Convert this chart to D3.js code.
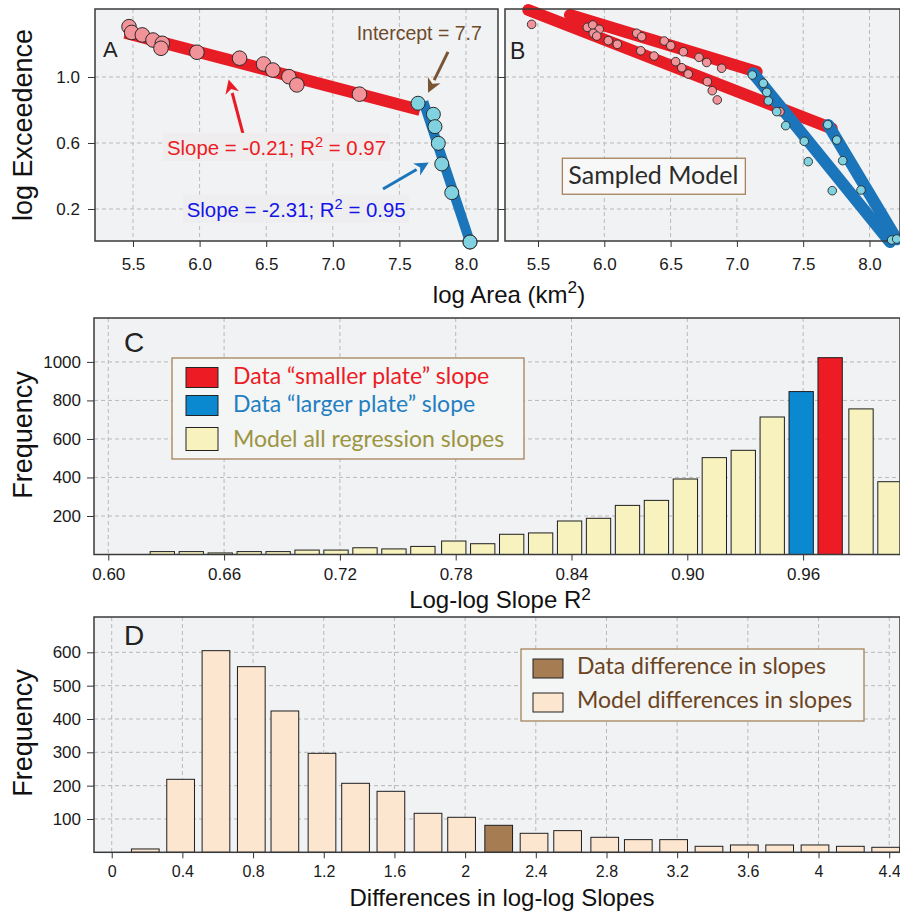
<!DOCTYPE html>
<html>
<head>
<meta charset="utf-8">
<script src="https://cdn.jsdelivr.net/npm/d3@7"></script>
<style>
body { margin: 0; background: #fff; }
svg { display: block; }
</style>
</head>
<body>
<script>
// ---- panel A: observed plates, log area vs log exceedence
var aSmallX = [5.47, 5.49, 5.57, 5.65, 5.72, 5.71, 5.98, 6.30, 6.48, 6.55, 6.67, 6.73, 7.20];
var aSmallY = [1.305, 1.27, 1.255, 1.224, 1.204, 1.174, 1.150, 1.114, 1.079, 1.042, 1.002, 0.952, 0.896];
var aLargeX = [7.64, 7.755, 7.767, 7.792, 7.818, 7.893, 8.03];
var aLargeY = [0.841, 0.774, 0.699, 0.598, 0.473, 0.299, 0.0];
var aFitSmall = [[5.44, 1.268], [7.655, 0.80]];
var aFitLarge = [[7.68, 0.85], [8.03, 0.0]];

// ---- panel B: sampled model
var bSmallX = [5.452, 5.872, 5.913, 5.962, 5.917, 5.943, 6.030, 6.098, 6.244, 6.282, 6.275, 6.375, 6.452,
               6.501, 6.596, 6.538, 6.584, 6.633, 6.714, 6.772, 6.885, 6.777, 6.814, 6.852, 7.325];
var bSmallY = [1.319, 1.301, 1.315, 1.289, 1.265, 1.248, 1.220, 1.198, 1.265, 1.244, 1.159, 1.127, 1.218,
               1.190, 1.153, 1.093, 1.056, 1.018, 1.119, 1.088, 1.053, 0.972, 0.917, 0.861, 0.790];
var bLargeX = [7.116, 7.199, 7.225, 7.237, 7.300, 7.368, 7.508, 7.538, 7.685, 7.753, 7.798, 7.719, 7.936, 8.167, 8.205];
var bLargeY = [1.012, 0.962, 0.907, 0.855, 0.790, 0.705, 0.610, 0.487, 0.711, 0.618, 0.493, 0.311, 0.315, 0.012, 0.018];
var bFitsSmall = [[[5.741, 1.376], [7.149, 1.032]], [[5.427, 1.406], [7.715, 0.689]]];
var bFitsLarge = [[[7.124, 1.022], [8.155, 0.0]], [[7.689, 0.709], [8.205, 0.016]]];

// ---- panel C: histogram of R2
var r2Bins = [0.628, 0.643, 0.658, 0.673, 0.688, 0.703, 0.718, 0.733, 0.748, 0.763, 0.779, 0.794, 0.809,
              0.824, 0.839, 0.854, 0.869, 0.884, 0.899, 0.914, 0.929, 0.944, 0.959, 0.974, 0.990, 1.005];
var r2Counts = [15, 15, 8, 15, 15, 23, 23, 35, 29, 42, 70, 56, 105,
                112, 174, 188, 255, 281, 392, 503, 541, 714, 846, 1022, 756, 378];
var r2Kind = ['m','m','m','m','m','m','m','m','m','m','m','m','m',
              'm','m','m','m','m','m','m','m','m','large','small','m','m'];
var r2XTicks = [0.60, 0.66, 0.72, 0.78, 0.84, 0.90, 0.96];
var r2YTicks = [200, 400, 600, 800, 1000];

// ---- panel D: histogram of slope differences
var diffBins = [0.19, 0.39, 0.59, 0.79, 0.98, 1.19, 1.38, 1.58, 1.79, 1.98, 2.19,
                2.39, 2.58, 2.79, 2.98, 3.18, 3.38, 3.58, 3.78, 3.98, 4.18, 4.38];
var diffCounts = [10, 219, 605, 557, 424, 297, 207, 183, 117, 105, 81,
                  57, 65, 45, 38, 38, 18, 22, 22, 22, 18, 15];
var diffKind = ['m','m','m','m','m','m','m','m','m','m','data',
                'm','m','m','m','m','m','m','m','m','m','m'];
var diffXTicks = [0, 0.4, 0.8, 1.2, 1.6, 2, 2.4, 2.8, 3.2, 3.6, 4, 4.4];
var diffYTicks = [100, 200, 300, 400, 500, 600];

var areaTicks = [5.5, 6.0, 6.5, 7.0, 7.5, 8.0];
var exceedTicks = [0.2, 0.6, 1.0];

var SANS = '"Liberation Sans", Arial, Helvetica, sans-serif';
var MYR = 'Lato, "Open Sans", sans-serif';

var svg = d3.select('body').append('svg')
    .attr('width', 900).attr('height', 913)
    .style('font-family', SANS);

// scales
var xA = d3.scaleLinear().domain([5.2147, 8.2402]).range([95, 498]);
var xB = d3.scaleLinear().domain([5.2511, 8.230]).range([505, 900]);
var yAB = d3.scaleLinear().domain([0.006, 1.412]).range([241, 9]);
var xC = d3.scaleLinear().domain([0.5926, 1.0102]).range([94, 900]);
var yC = d3.scaleLinear().domain([0, 1228]).range([554.5, 318]);
var xD = d3.scaleLinear().domain([-0.1002, 4.461]).range([94, 900]);
var yD = d3.scaleLinear().domain([0, 706]).range([852.3, 617]);

function background(x, y, xt, yt) {
    var g = svg.append('g');
    var xr = x.range(), yr = y.range();
    g.append('rect')
        .attr('x', xr[0]).attr('y', yr[1])
        .attr('width', xr[1] - xr[0]).attr('height', yr[0] - yr[1])
        .attr('fill', '#f1f2f4');
    g.selectAll('.vg').data(xt).enter().append('line')
        .attr('x1', d => x(d)).attr('x2', d => x(d))
        .attr('y1', yr[1]).attr('y2', yr[0])
        .attr('stroke', '#b9b9b9').attr('stroke-dasharray', '4,3');
    g.selectAll('.hg').data(yt).enter().append('line')
        .attr('y1', d => y(d)).attr('y2', d => y(d))
        .attr('x1', xr[0]).attr('x2', xr[1])
        .attr('stroke', '#b9b9b9').attr('stroke-dasharray', '4,3');
    return g;
}

function border(x, y) {
    var xr = x.range(), yr = y.range();
    svg.append('rect')
        .attr('x', xr[0]).attr('y', yr[1])
        .attr('width', xr[1] - xr[0]).attr('height', yr[0] - yr[1])
        .attr('fill', 'none').attr('stroke', '#3a3a3a').attr('stroke-width', 1.5);
}

function axes(x, y, xt, yt, xfmt, yfmt, xpad, ypad, xfont, yfont) {
    var yr = y.range(), xr = x.range();
    var gx = svg.append('g').attr('transform', 'translate(0,' + yr[0] + ')')
        .call(d3.axisBottom(x).tickValues(xt).tickSize(6).tickPadding(xpad).tickFormat(xfmt));
    gx.select('.domain').remove();
    gx.selectAll('text').attr('font-size', xfont).attr('font-family', SANS).attr('fill', '#1a1a1a');
    gx.selectAll('line').attr('stroke', '#333');
    var gy = svg.append('g').attr('transform', 'translate(' + xr[0] + ',0)')
        .call(d3.axisLeft(y).tickValues(yt).tickSize(7).tickPadding(ypad).tickFormat(yfmt));
    gy.select('.domain').remove();
    gy.selectAll('text').attr('font-size', yfont).attr('font-family', SANS).attr('fill', '#1a1a1a');
    gy.selectAll('line').attr('stroke', '#333');
}

function pts(xs, ys) { return xs.map((d, i) => [d, ys[i]]); }

function panelLetter(txt, px, py, size) {
    svg.append('text').attr('x', px).attr('y', py).attr('font-size', size)
        .attr('fill', '#222').text(txt);
}

function arrow(x, y, from, to, color, w) {
    var x1 = x(from[0]), y1 = y(from[1]), x2 = x(to[0]), y2 = y(to[1]);
    var ang = Math.atan2(y2 - y1, x2 - x1), L = 14, Wd = 7;
    var bx = x2 - L * Math.cos(ang), by = y2 - L * Math.sin(ang);
    svg.append('line').attr('x1', x1).attr('y1', y1).attr('x2', bx).attr('y2', by)
        .attr('stroke', color).attr('stroke-width', w);
    svg.append('path')
        .attr('d', 'M' + x2 + ',' + y2 +
            'L' + (bx + Wd * Math.sin(ang)) + ',' + (by - Wd * Math.cos(ang)) +
            'L' + (x2 - 0.7 * L * Math.cos(ang)) + ',' + (y2 - 0.7 * L * Math.sin(ang)) +
            'L' + (bx - Wd * Math.sin(ang)) + ',' + (by + Wd * Math.cos(ang)) + 'Z')
        .attr('fill', color);
}

function supLabel(g, px, py, pre, sup, post, size, color, anchor, raise) {
    var r = raise || 0.4;
    var t = g.append('text').attr('x', px).attr('y', py).attr('font-size', size)
        .attr('fill', color).attr('text-anchor', anchor || 'start');
    t.append('tspan').text(pre);
    t.append('tspan').attr('dy', -size * r).attr('font-size', size * 0.72).text(sup);
    t.append('tspan').attr('dy', size * r).text(post);
    return t;
}

var line = d3.line();

// ================= Panel A =================
background(xA, yAB, areaTicks, exceedTicks);
axes(xA, yAB, areaTicks, exceedTicks, d3.format('.1f'), d3.format('.1f'), 11, 8, 17, 17);

svg.append('path').attr('d', line(aFitSmall.map(d => [xA(d[0]), yAB(d[1])])))
    .attr('stroke', '#e81c24').attr('stroke-width', 12).attr('fill', 'none');
svg.append('path').attr('d', line(aFitLarge.map(d => [xA(d[0]), yAB(d[1])])))
    .attr('stroke', '#1a75bb').attr('stroke-width', 10).attr('fill', 'none');

svg.append('g').selectAll('circle').data(pts(aSmallX, aSmallY)).enter().append('circle')
    .attr('cx', d => xA(d[0])).attr('cy', d => yAB(d[1])).attr('r', 7.3)
    .attr('fill', '#f2939a').attr('stroke', '#2a2a2a').attr('stroke-width', 1);
svg.append('g').selectAll('circle').data(pts(aLargeX, aLargeY)).enter().append('circle')
    .attr('cx', d => xA(d[0])).attr('cy', d => yAB(d[1])).attr('r', 7)
    .attr('fill', '#80d2e0').attr('stroke', '#2a2a2a').attr('stroke-width', 1);

// annotations A
arrow(xA, yAB, [7.865, 1.152], [7.715, 0.905], '#7a5535', 3);
arrow(xA, yAB, [6.326, 0.655], [6.218, 0.985], '#e81c24', 3);
arrow(xA, yAB, [7.377, 0.321], [7.72, 0.482], '#1a75bb', 3);

var annA = svg.append('g');
var redBox = annA.append('rect').attr('fill', '#efeded');
var redT = supLabel(annA, xA(5.755), yAB(0.527), 'Slope = -0.21; R', '2', ' = 0.97', 20.4, '#ec1c24');
var blueBox = annA.append('rect').attr('fill', '#eeeef1');
var blueT = supLabel(annA, xA(5.903), yAB(0.153), 'Slope = -2.31; R', '2', ' = 0.95', 20.4, '#1414e6');
[[redBox, redT], [blueBox, blueT]].forEach(function (p) {
    var bb = p[1].node().getBBox();
    p[0].attr('x', bb.x - 4).attr('y', bb.y - 1).attr('width', bb.width + 8).attr('height', bb.height + 3);
});
annA.append('text').attr('x', xA(7.179)).attr('y', yAB(1.224)).attr('font-size', 19.5)
    .attr('fill', '#6e4b2a').text('Intercept = 7.7');

border(xA, yAB);
// point sitting on the bottom border
svg.append('circle').attr('cx', xA(aLargeX[6])).attr('cy', yAB(aLargeY[6])).attr('r', 7)
    .attr('fill', '#80d2e0').attr('stroke', '#2a2a2a').attr('stroke-width', 1);
panelLetter('A', 103, 57, 22);

// ================= Panel B =================
background(xB, yAB, areaTicks, exceedTicks);
axes(xB, yAB, areaTicks, exceedTicks, d3.format('.1f'), '', 11, 8, 17, 17);

bFitsSmall.forEach(function (f) {
    svg.append('path').attr('d', line(f.map(d => [xB(d[0]), yAB(d[1])])))
        .attr('stroke', '#e81c24').attr('stroke-width', 12).attr('stroke-linecap', 'round').attr('fill', 'none');
});
bFitsLarge.forEach(function (f) {
    svg.append('path').attr('d', line(f.map(d => [xB(d[0]), yAB(d[1])])))
        .attr('stroke', '#1a75bb').attr('stroke-width', 12).attr('stroke-linecap', 'round').attr('fill', 'none');
});
svg.append('g').selectAll('circle').data(pts(bSmallX, bSmallY)).enter().append('circle')
    .attr('cx', d => xB(d[0])).attr('cy', d => yAB(d[1])).attr('r', 4.3)
    .attr('fill', '#f2939a').attr('stroke', '#2a2a2a').attr('stroke-width', 0.9);

var smBox = svg.append('rect').attr('fill', '#f8f8f8').attr('stroke', '#a5825a').attr('stroke-width', 1.3);
var smT = svg.append('text').attr('x', xB(5.729)).attr('y', yAB(0.350)).attr('font-size', 25)
    .attr('font-family', MYR).attr('fill', '#2b2b2b').text('Sampled Model');
var smW = smT.node().getComputedTextLength();
smBox.attr('x', xB(5.729) - 6).attr('y', yAB(0.350) - 26).attr('width', smW + 13).attr('height', 36);

border(xB, yAB);
svg.append('g').selectAll('circle').data(pts(bLargeX, bLargeY)).enter().append('circle')
    .attr('cx', d => xB(d[0])).attr('cy', d => yAB(d[1])).attr('r', 4.3)
    .attr('fill', '#80d2e0').attr('stroke', '#2a2a2a').attr('stroke-width', 0.9);
panelLetter('B', 510, 59, 23);

// titles A/B
svg.append('text').attr('transform', 'translate(32,125) rotate(-90)').attr('text-anchor', 'middle')
    .attr('font-size', 27).attr('fill', '#111').text('log Exceedence');
supLabel(svg, 509, 303, 'log Area (km', '2', ')', 24, '#111', 'middle');

// ================= Panel C =================
background(xC, yC, r2XTicks, r2YTicks);
axes(xC, yC, r2XTicks, r2YTicks, d3.format('.2f'), d3.format('d'), 7, 6, 17, 17);

var cFill = { m: '#f7f2be', large: '#0a88d0', small: '#ed1c24' };
var cBarW = xC(0.0126) - xC(0);
svg.append('g').selectAll('rect').data(r2Bins).enter().append('rect')
    .attr('x', d => xC(d) - cBarW / 2)
    .attr('width', cBarW)
    .attr('y', (d, i) => yC(r2Counts[i]))
    .attr('height', (d, i) => yC(0) - yC(r2Counts[i]))
    .attr('fill', (d, i) => cFill[r2Kind[i]])
    .attr('stroke', '#1e1e1e').attr('stroke-width', 1);

border(xC, yC);
panelLetter('C', 124, 352, 28);

// legend C
var legC = svg.append('g').attr('transform', 'translate(172,358)').attr('font-family', MYR);
legC.append('rect').attr('width', 352).attr('height', 101)
    .attr('fill', '#f4f5f5').attr('stroke', '#a5825a').attr('stroke-width', 1.3);
var legCItems = ['Data \u201csmaller plate\u201d slope', 'Data \u201clarger plate\u201d slope', 'Model all regression slopes'];
var legCFill = ['#ed1c24', '#0a88d0', '#f7f2be'];
var legCText = ['#ec1c24', '#1f7fc2', '#9b9442'];
var legCRow = [9.5, 37.5, 69.5];
var legCH = [20, 20, 23];
legCItems.forEach(function (t, i) {
    legC.append('rect').attr('x', 14).attr('y', legCRow[i]).attr('width', 32).attr('height', legCH[i])
        .attr('fill', legCFill[i]).attr('stroke', '#222').attr('stroke-width', 1);
    legC.append('text').attr('x', 61).attr('y', legCRow[i] + 16 + (legCH[i] - 20))
        .attr('font-size', 23).attr('fill', legCText[i]).text(t);
});

svg.append('text').attr('transform', 'translate(32,435) rotate(-90)').attr('text-anchor', 'middle')
    .attr('font-size', 27).attr('fill', '#111').text('Frequency');
supLabel(svg, 500, 608, 'Log-log Slope R', '2', '', 24, '#111', 'middle', 0.34);

// ================= Panel D =================
background(xD, yD, diffXTicks, diffYTicks);
axes(xD, yD, diffXTicks, diffYTicks, d => String(d), d3.format('d'), 7.6, 6, 16, 17);

var dFill = { m: '#fde6cf', data: '#a67c52' };
var dBarW = xD(0.1568) - xD(0);
svg.append('g').selectAll('rect').data(diffBins).enter().append('rect')
    .attr('x', d => xD(d) - dBarW / 2)
    .attr('width', dBarW)
    .attr('y', (d, i) => yD(diffCounts[i]))
    .attr('height', (d, i) => yD(0) - yD(diffCounts[i]))
    .attr('fill', (d, i) => dFill[diffKind[i]])
    .attr('stroke', '#1e1e1e').attr('stroke-width', 1);

border(xD, yD);
panelLetter('D', 124, 645, 28);

var legD = svg.append('g').attr('transform', 'translate(521,649)').attr('font-family', MYR);
legD.append('rect').attr('width', 343).attr('height', 72)
    .attr('fill', '#f4f5f5').attr('stroke', '#a5825a').attr('stroke-width', 1.3);
var legDItems = ['Data difference in slopes', 'Model differences in slopes'];
var legDFill = ['#a67c52', '#fde6cf'];
[10, 44].forEach(function (ry, i) {
    legD.append('rect').attr('x', 12).attr('y', ry).attr('width', 30).attr('height', 19)
        .attr('fill', legDFill[i]).attr('stroke', '#222').attr('stroke-width', 1);
    legD.append('text').attr('x', 56).attr('y', ry + 15)
        .attr('font-size', 23).attr('fill', '#6b4423').text(legDItems[i]);
});

svg.append('text').attr('transform', 'translate(32,733) rotate(-90)').attr('text-anchor', 'middle')
    .attr('font-size', 27).attr('fill', '#111').text('Frequency');
svg.append('text').attr('x', 502).attr('y', 906).attr('text-anchor', 'middle')
    .attr('font-size', 24).attr('fill', '#111').text('Differences in log-log Slopes');
</script>
</body>
</html>
